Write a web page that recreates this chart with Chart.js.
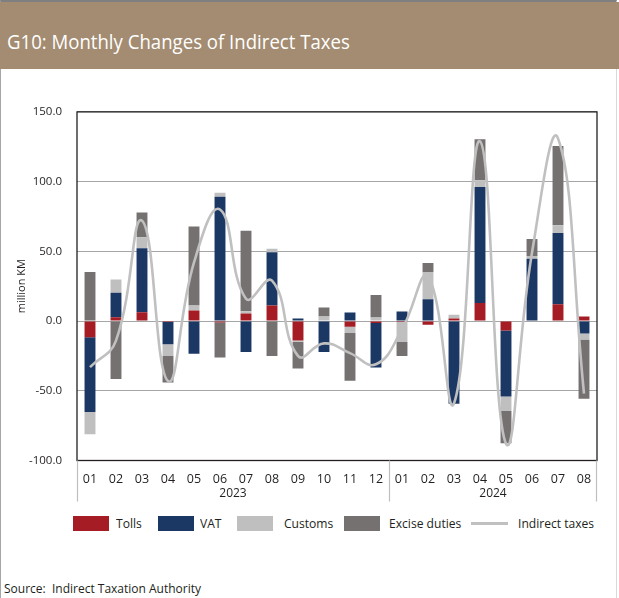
<!DOCTYPE html>
<html>
<head>
<meta charset="utf-8">
<script src="https://cdn.jsdelivr.net/npm/chart.js@4.4.1/dist/chart.umd.min.js"></script>
<style>
  html, body { margin:0; padding:0; background:#fff; }
  body { width:619px; height:598px; position:relative; overflow:hidden; font-family:'Open Sans', sans-serif; color:#231f20; }
  #frame { position:absolute; left:0; top:0; width:617px; height:598px; border-left:1px solid #a6a6a6; border-right:1px solid #d9d9d9; border-top:2px solid #7f7f7f; box-sizing:border-box; }
  #header { position:absolute; left:0; top:2px; width:619px; height:67px; background:#a38c71; }
  #header span { position:absolute; left:7px; top:26px; font-size:20px; color:#fff; white-space:nowrap; transform-origin:left top; transform:scaleX(0.93); }
  #chartBox { position:absolute; left:0; top:90px; width:619px; height:420px; }
  .lg { position:absolute; top:516px; height:15px; }
  .lgt { position:absolute; top:514px; font-size:13px; line-height:18px; white-space:nowrap; transform-origin:left top; transform:scaleX(0.93); }
  #source { position:absolute; left:4px; top:580px; font-size:12px; white-space:nowrap; }
</style>
</head>
<body>
<div id="frame"></div>
<div id="header"><span>G10: Monthly Changes of Indirect Taxes</span></div>
<div id="chartBox"><canvas id="taxChart"></canvas></div>

<div class="lg" style="left:73px;width:36px;background:#a51c24"></div><div class="lgt" style="left:116px">Tolls</div>
<div class="lg" style="left:158px;width:36px;background:#1b3764"></div><div class="lgt" style="left:200px">VAT</div>
<div class="lg" style="left:237px;width:36px;background:#bfbfbf"></div><div class="lgt" style="left:284px">Customs</div>
<div class="lg" style="left:344px;width:36px;background:#767171"></div><div class="lgt" style="left:389px">Excise duties</div>
<div class="lg" style="left:471px;width:37px;top:522px;height:3px;background:#c0c0c0"></div><div class="lgt" style="left:518px">Indirect taxes</div>

<div id="source">Source:&nbsp; Indirect Taxation Authority</div>

<script>
const MONTHS = ['01','02','03','04','05','06','07','08','09','10','11','12','01','02','03','04','05','06','07','08'];
const YEARS = ['2023','2024'];
const YEAR_MONTHS = [12, 8];

// million KM, change vs same month of previous year
const TOLLS   = [-11.6, 2.8, 6.4, -0.7, 7.6, -1.0, 5.5, 11.1, -13.9, 0.0, -4.0, -1.4, -0.7, -2.6, 1.9, 13.0, -6.8, 0.0, 12.1, 3.3];
const VAT     = [-53.7, 17.5, 45.9, -16.0, -23.4, 89.1, -22.2, 38.3, 1.9, -22.2, 6.2, -31.9, 6.9, 15.6, -59.3, 83.2, -47.3, 44.7, 51.0, -8.9];
const CUSTOMS = [-15.9, 9.5, 7.8, -8.3, 3.5, 2.9, 1.5, 2.4, -1.0, 3.3, -4.5, 2.6, -14.4, 19.6, 2.6, 4.8, -10.4, 1.9, 5.7, -4.3];
const EXCISE  = [35.2, -41.6, 17.7, -19.0, 56.8, -25.2, 57.8, -25.0, -19.1, 6.4, -34.3, 16.1, -9.9, 6.4, 0.0, 29.3, -23.2, 12.3, 56.7, -42.5];
const INDIRECT = [-33, -14, 72, -43, 42, 80, 16, 29, -25, -16, -23, -31, -6, 32, -59, 129, -88, 49, 131, -52];

const Y_MIN = -100, Y_MAX = 150, Y_STEP = 50;

const FONT = { family:'Open Sans', size:11.5 };
const INK = '#231f20';

function bar(label, data, color) {
  return { type:'bar', label, data, backgroundColor:color, borderWidth:0,
           barPercentage:0.42, categoryPercentage:1, order:1 };
}

// frame around the plot + year groups under the month labels
const frameAndYears = {
  id:'frameAndYears',
  afterDraw(chart) {
    const { ctx, chartArea:a, scales:{ x } } = chart;
    ctx.save();
    ctx.strokeStyle = '#231f20';
    ctx.lineWidth = 1.3;
    ctx.strokeRect(a.left, a.top, a.right - a.left, a.bottom - a.top);

    const half = (x.getPixelForValue(1) - x.getPixelForValue(0)) / 2;
    ctx.strokeStyle = '#bfbfbf';
    ctx.lineWidth = 1.2;
    ctx.fillStyle = INK;
    ctx.font = '12px "Open Sans"';
    ctx.textAlign = 'center';
    ctx.textBaseline = 'middle';
    let start = 0;
    YEARS.forEach((yr, i) => {
      const end = start + YEAR_MONTHS[i] - 1;
      const l = x.getPixelForValue(start) - half;
      const r = x.getPixelForValue(end) + half;
      ctx.beginPath();
      ctx.moveTo(Math.round(l) + 0.5, a.bottom);
      ctx.lineTo(Math.round(l) + 0.5, a.bottom + 41);
      if (i === YEARS.length - 1) {
        ctx.moveTo(Math.round(r) - 0.5, a.bottom);
        ctx.lineTo(Math.round(r) - 0.5, a.bottom + 41);
      }
      ctx.stroke();
      ctx.fillText(yr, (l + r) / 2, a.bottom + 33);
      start = end + 1;
    });
    ctx.restore();
  }
};

new Chart(document.getElementById('taxChart'), {
  data: {
    labels: MONTHS,
    datasets: [
      bar('Tolls', TOLLS, '#a51c24'),
      bar('VAT', VAT, '#1b3764'),
      bar('Customs', CUSTOMS, '#bfbfbf'),
      bar('Excise duties', EXCISE, '#767171'),
      { type:'line', label:'Indirect taxes', data:INDIRECT, stack:'line', order:0,
        borderColor:'#c0c0c0', borderWidth:2.6, pointRadius:0, tension:0.45, fill:false },
    ],
  },
  options: {
    responsive:true, maintainAspectRatio:false, animation:false,
    layout:{ padding:{ top:17.5, right:22, left:0, bottom:0 } },
    plugins:{ legend:{ display:false }, tooltip:{ enabled:false } },
    scales:{
      x:{
        stacked:true,
        grid:{ display:false },
        border:{ display:false },
        ticks:{ font:{ family:'Open Sans', size:12.5 }, color:INK, padding:3, maxRotation:0, autoSkip:false },
        afterFit(s) { s.height = 49.5; },
      },
      y:{
        stacked:true, min:Y_MIN, max:Y_MAX,
        grid:{ color:'#a6a6a6', lineWidth:1, drawTicks:false },
        border:{ display:false },
        ticks:{ stepSize:Y_STEP, font:FONT, color:INK, padding:15, callback:v => v.toFixed(1) },
        title:{ display:true, text:'million KM', font:{ family:'Open Sans', size:11 }, color:INK, padding:{ top:15, bottom:0 } },
        afterFit(s) { s.width = 77; },
      },
    },
  },
  plugins:[frameAndYears],
});
</script>
</body>
</html>
